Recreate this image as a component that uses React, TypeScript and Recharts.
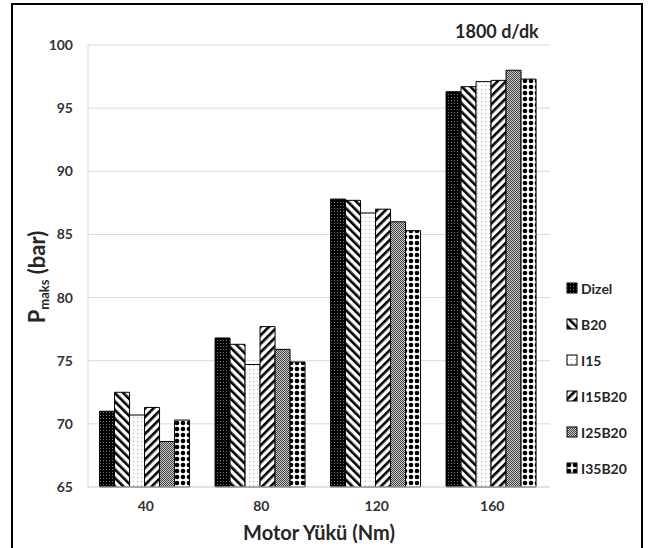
import React from 'react';
import { BarChart, Bar, XAxis, YAxis, CartesianGrid, Legend } from 'recharts';

const loads = ['40', '80', '120', '160'];
const dizel = [71.0, 76.8, 87.8, 96.3];
const b20 = [72.5, 76.3, 87.7, 96.7];
const i15 = [70.7, 74.7, 86.7, 97.1];
const i15b20 = [71.3, 77.7, 87.0, 97.2];
const i25b20 = [68.6, 75.9, 86.0, 98.0];
const i35b20 = [70.3, 74.9, 85.3, 97.3];
const yTicks = [65, 70, 75, 80, 85, 90, 95, 100];

const series = [
  { key: 'Dizel', values: dizel, pattern: 'pDizel' },
  { key: 'B20', values: b20, pattern: 'pB20' },
  { key: 'I15', values: i15, pattern: 'pI15' },
  { key: 'I15B20', values: i15b20, pattern: 'pI15B20' },
  { key: 'I25B20', values: i25b20, pattern: 'pI25B20' },
  { key: 'I35B20', values: i35b20, pattern: 'pI35B20' },
];

const data = loads.map((load, i) => {
  const row: { [k: string]: string | number } = { load };
  series.forEach((s) => {
    row[s.key] = s.values[i];
  });
  return row;
});

const FONT = 'Lato, "Open Sans", sans-serif';

const Patterns = () => (
  <defs>
    <pattern id="pDizel" width="3" height="3" patternUnits="userSpaceOnUse">
      <rect width="3" height="3" fill="#000" />
      <rect x="1" y="1" width="1" height="1" fill="#777" />
    </pattern>
    <pattern id="pB20" width="6" height="6" patternUnits="userSpaceOnUse" patternTransform="rotate(-45)">
      <rect width="6" height="6" fill="#fff" />
      <rect width="2.6" height="6" fill="#000" />
    </pattern>
    <pattern id="pI15" width="4" height="4" patternUnits="userSpaceOnUse">
      <rect width="4" height="4" fill="#fff" />
      <rect x="1" y="1" width="1" height="1" fill="#aaa" />
    </pattern>
    <pattern id="pI15B20" width="6" height="6" patternUnits="userSpaceOnUse" patternTransform="rotate(45)">
      <rect width="6" height="6" fill="#fff" />
      <rect width="2.6" height="6" fill="#000" />
    </pattern>
    <pattern id="pI25B20" width="2" height="2" patternUnits="userSpaceOnUse">
      <rect width="2" height="2" fill="#c8c8c8" />
      <rect width="1" height="1" fill="#444" />
      <rect x="1" y="1" width="1" height="1" fill="#444" />
    </pattern>
    <pattern id="pI35B20" width="6" height="6" patternUnits="userSpaceOnUse">
      <rect width="6" height="6" fill="#fff" />
      <circle cx="3" cy="3" r="2.3" fill="#000" />
    </pattern>
  </defs>
);

const LegendContent = () => (
  <div style={{ fontFamily: FONT, fontWeight: 700, fontSize: 14, color: '#262626' }}>
    {series.map((s) => (
      <div key={s.key} style={{ display: 'flex', alignItems: 'center', height: 36 }}>
        <svg width={12} height={12} style={{ marginRight: 3 }}>
          <rect x={1} y={1} width={10} height={10} fill={`url(#${s.pattern})`} stroke="#000" strokeWidth={1} />
        </svg>
        <span>{s.key}</span>
      </div>
    ))}
  </div>
);

const YLabel = () => (
  <text
    transform="translate(45, 277) rotate(-90)"
    textAnchor="middle"
    fontFamily={FONT}
    fontWeight={700}
    fontSize={22}
    fill="#262626"
  >
    P<tspan fontSize={13} dy={4}>maks</tspan>
    <tspan dy={-4}> (bar)</tspan>
  </text>
);

export default function App() {
  return (
    <div style={{ position: 'absolute', left: 0, top: 0, width: 656, height: 548, background: '#fff', overflow: 'hidden' }}>
      <div
        style={{
          position: 'absolute',
          left: 11,
          top: 3,
          width: 632,
          height: 570,
          border: '2px solid #000',
          boxSizing: 'border-box',
        }}
      />
      <div
        style={{
          position: 'absolute',
          left: 455,
          top: 20,
          fontFamily: FONT,
          fontWeight: 700,
          fontSize: 18,
          color: '#262626',
        }}
      >
        1800 d/dk
      </div>
      <BarChart
        width={656}
        height={548}
        data={data}
        margin={{ top: 45, right: 106, bottom: 0, left: 0 }}
        barCategoryGap="10%"
        barGap={0}
      >
        <Patterns />
        <CartesianGrid vertical={false} stroke="#d9d9d9" />
        <XAxis
          dataKey="load"
          height={61}
          tickLine={false}
          axisLine={{ stroke: '#d9d9d9' }}
          tickMargin={8}
          tick={{ fontFamily: FONT, fontWeight: 700, fontSize: 14, fill: '#333' }}
          label={{
            value: 'Motor Yükü (Nm)',
            position: 'insideBottom',
            offset: 8,
            style: { fontFamily: FONT, fontWeight: 700, fontSize: 20, fill: '#262626' },
          }}
        />
        <YAxis
          width={88}
          domain={[65, 100]}
          ticks={yTicks}
          interval={0}
          tickLine={false}
          axisLine={{ stroke: '#d9d9d9' }}
          tickMargin={9}
          tick={{ fontFamily: FONT, fontWeight: 700, fontSize: 14, fill: '#333' }}
          label={<YLabel />}
        />
        <Legend
          layout="vertical"
          align="center"
          verticalAlign="middle"
          content={<LegendContent />}
          wrapperStyle={{ left: 566, top: 270, width: 84 }}
        />
        {series.map((s) => (
          <Bar
            key={s.key}
            dataKey={s.key}
            fill={`url(#${s.pattern})`}
            stroke="#000"
            strokeWidth={1}
            isAnimationActive={false}
          />
        ))}
      </BarChart>
    </div>
  );
}
